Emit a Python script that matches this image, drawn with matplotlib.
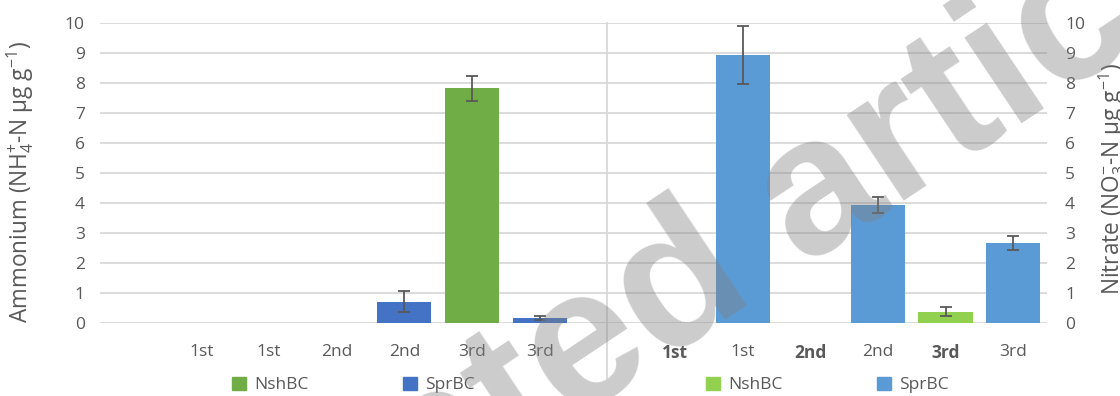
import numpy as np
import matplotlib
matplotlib.use("Agg")
import matplotlib.pyplot as plt
from matplotlib.patches import Patch

plt.rcParams['font.family'] = ['Open Sans', 'DejaVu Sans']
plt.rcParams['mathtext.fontset'] = 'custom'
plt.rcParams['mathtext.rm'] = 'Open Sans'
plt.rcParams['mathtext.it'] = 'Open Sans:italic'
plt.rcParams['mathtext.bf'] = 'Open Sans:bold'

# ---- data ----
series = ['NshBC', 'SprBC', 'NshBC', 'SprBC', 'NshBC', 'SprBC']
amm_labels = ['1st', '1st', '2nd', '2nd', '3rd', '3rd']
amm_vals = [np.nan, np.nan, np.nan, 0.72, 7.82, 0.17]
amm_err = [np.nan, np.nan, np.nan, 0.34, 0.41, 0.06]
nit_labels = ['1st', '1st', '2nd', '2nd', '3rd', '3rd']
nit_bold = [True, False, True, False, True, False]
nit_vals = [np.nan, 8.93, np.nan, 3.93, 0.38, 2.66]
nit_err = [np.nan, 0.97, np.nan, 0.27, 0.15, 0.23]
yticks = list(range(0, 11))

amm_colors = {'NshBC': '#70AD47', 'SprBC': '#4472C4'}
nit_colors = {'NshBC': '#92D050', 'SprBC': '#5B9BD5'}
txt = '#595959'
grid = '#D9D9D9'

fig = plt.figure(figsize=(11.2, 3.96), dpi=100)
ax = fig.add_axes([100/1120, 1-323.3/396, 947/1120, 300.6/396])
ax2 = ax.twinx()

amm_pos = np.arange(1, 7)
nit_pos = np.arange(8, 14)

ax.bar(amm_pos, amm_vals, width=0.8,
       color=[amm_colors[s] for s in series], zorder=2)
ax.errorbar(amm_pos, amm_vals, yerr=amm_err, fmt='none', ecolor=txt,
            elinewidth=1.3, capsize=4, capthick=1.3, zorder=3)
ax2.bar(nit_pos, nit_vals, width=0.8,
        color=[nit_colors[s] for s in series], zorder=2)
ax2.errorbar(nit_pos, nit_vals, yerr=nit_err, fmt='none', ecolor=txt,
             elinewidth=1.3, capsize=4, capthick=1.3, zorder=3)

for a in (ax, ax2):
    a.set_ylim(0, 10)
    a.set_xlim(-0.5, 13.5)
    a.set_yticks(yticks)
    for sp in a.spines.values():
        sp.set_visible(False)
    a.tick_params(axis='both', length=0, colors=txt, labelsize=12.5)

ax.yaxis.grid(True, color=grid, linewidth=1.3, zorder=0)
ax.set_axisbelow(True)
ax.tick_params(axis='y', pad=11)
ax2.tick_params(axis='y', pad=13)
for t in ax2.get_yticklabels():
    t.set_horizontalalignment('left')

ax.set_xticks(list(amm_pos) + list(nit_pos))
ax.set_xticklabels(amm_labels + nit_labels)
ax.tick_params(axis='x', pad=15)
for lbl, b in zip(ax.get_xticklabels()[6:], nit_bold):
    if b:
        lbl.set_fontweight('bold')

# separator line
ax.plot([7, 7], [10, -1.82], color=grid, linewidth=1.3, clip_on=False, zorder=1)

ax.set_ylabel(r'Ammonium (NH$_4^{+}$-N µg g$^{-1}$)', fontsize=16.3, color=txt)
ax.yaxis.set_label_coords(-0.068, 0.47)
ax2.set_ylabel(r'Nitrate (NO$_3^{-}$-N µg g$^{-1}$)', fontsize=16.3, color=txt,
               rotation=90)
ax2.yaxis.set_label_coords(1.052, 0.48)

# legends
lh = [Patch(color=amm_colors['NshBC'], label='NshBC'),
      Patch(color=amm_colors['SprBC'], label='SprBC')]
rh = [Patch(color=nit_colors['NshBC'], label='NshBC'),
      Patch(color=nit_colors['SprBC'], label='SprBC')]
legkw = dict(ncol=2, frameon=False, fontsize=12.5, handlelength=0.8, handleheight=0.8,
             handletextpad=0.5, columnspacing=5.4, labelcolor=txt, loc='center left',
             borderaxespad=0, borderpad=0)
fig.legend(handles=lh, bbox_to_anchor=(232/1120, 1-385/396), **legkw)
fig.legend(handles=rh, bbox_to_anchor=(706/1120, 1-385/396), **legkw)

# watermark
fig.text(627/1120, 1-325/396, 'Accepted article', fontsize=140, fontweight='bold',
         family='Liberation Sans', color='#808080', alpha=0.4, rotation=33.7,
         ha='center', va='center', zorder=10)

fig.savefig('out.png', dpi=100)
